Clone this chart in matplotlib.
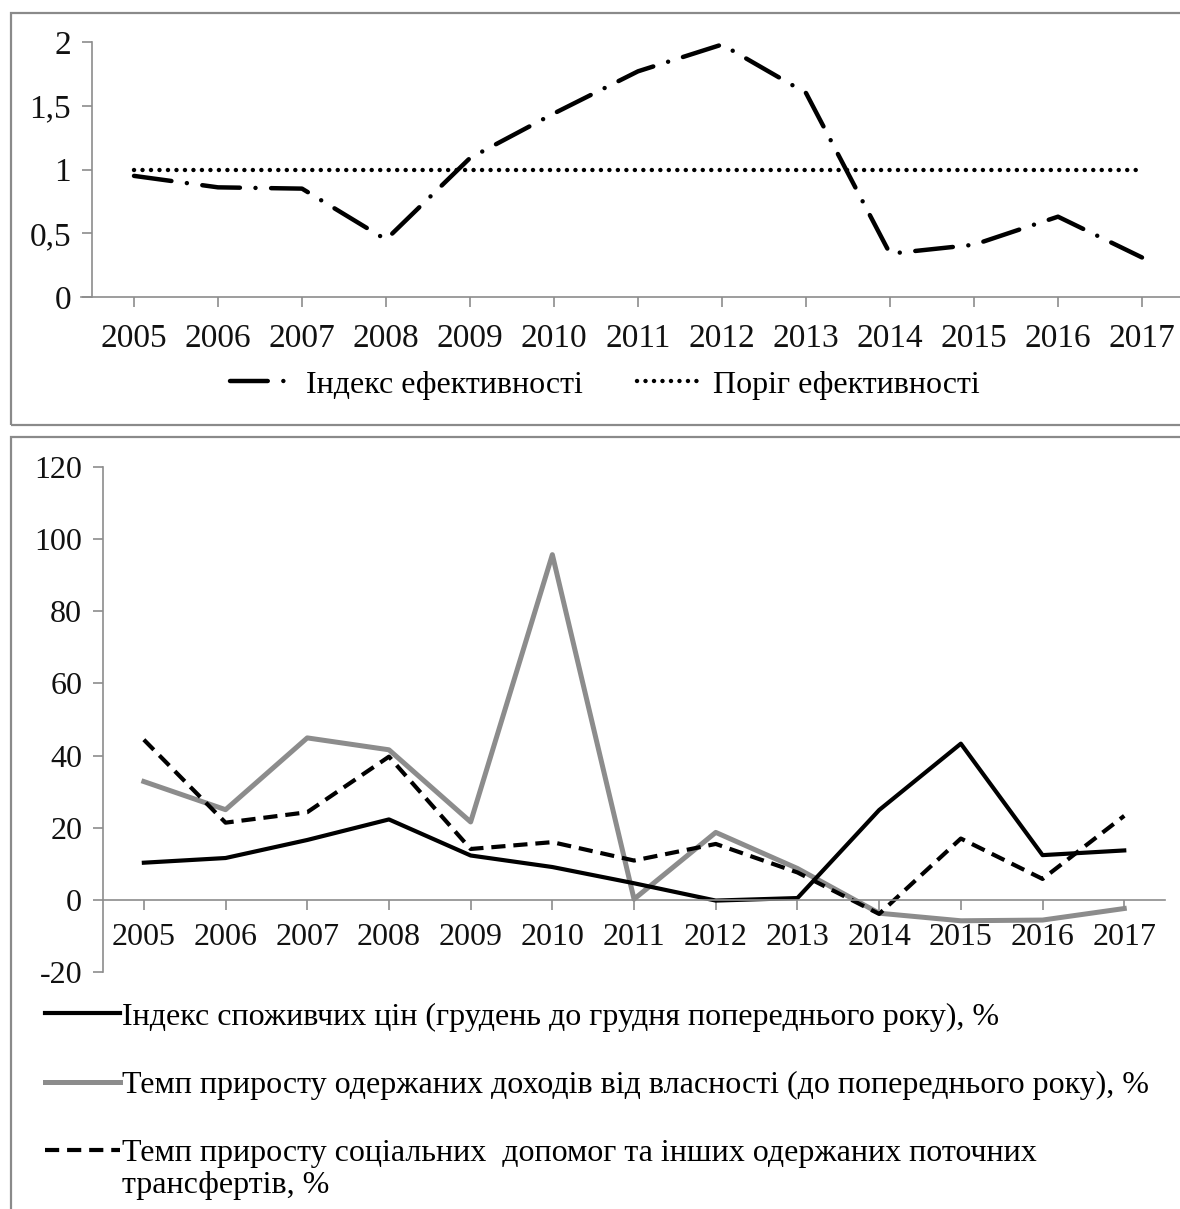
import matplotlib.pyplot as plt
import matplotlib.patches as mpatches
import numpy as np

plt.rcParams['font.family'] = ['Liberation Serif', 'DejaVu Serif']

years = ['2005', '2006', '2007', '2008', '2009', '2010', '2011',
         '2012', '2013', '2014', '2015', '2016', '2017']

# верхній графік
eff_index = [0.95, 0.86, 0.85, 0.45, 1.09, 1.44, 1.77, 1.98, 1.60, 0.34, 0.41, 0.63, 0.31]
eff_threshold = [1, 1, 1, 1, 1, 1, 1, 1, 1, 1, 1, 1, 1]
ticks_top = [0, 0.5, 1, 1.5, 2]
ticks_top_labels = ['0', '0,5', '1', '1,5', '2']

# нижній графік
cpi = [10.3, 11.6, 16.6, 22.3, 12.3, 9.1, 4.6, -0.2, 0.5, 24.9, 43.3, 12.4, 13.7]
prop_income = [32.8, 25.0, 44.9, 41.6, 21.6, 95.7, 0.2, 18.7, 8.7, -3.7, -5.8, -5.6, -2.4]
social = [44.4, 21.4, 24.3, 39.7, 14.1, 16.0, 10.9, 15.5, 7.6, -3.9, 17.0, 5.8, 23.3]
ticks_bot = [-20, 0, 20, 40, 60, 80, 100, 120]

lab_eff = 'Індекс ефективності'
lab_thr = 'Поріг ефективності'
lab_cpi = 'Індекс споживчих цін (грудень до грудня попереднього року), %'
lab_inc = 'Темп приросту одержаних доходів від власності (до попереднього року), %'
lab_soc = 'Темп приросту соціальних  допомог та інших одержаних поточних'
lab_soc2 = 'трансфертів, %'

W, H = 1180, 1209
fig = plt.figure(figsize=(W / 100, H / 100), dpi=100)

# рамки
border = '#8a8a8a'
fig.patches.append(mpatches.Rectangle((11 / W, 1 - 425 / H), 1.0, (425 - 13) / H,
                                      transform=fig.transFigure, fill=False,
                                      ec=border, lw=1.6))
fig.patches.append(mpatches.Rectangle((11 / W, -0.01), 1.0, 1 - 437 / H + 0.01,
                                      transform=fig.transFigure, fill=False,
                                      ec=border, lw=1.6))

x = np.arange(len(years))
axis_col = '#8c8c8c'


def style_axes(ax, size):
    for s in ['top', 'right']:
        ax.spines[s].set_visible(False)
    for s in ['left', 'bottom']:
        ax.spines[s].set_color(axis_col)
        ax.spines[s].set_linewidth(1.2)
    ax.tick_params(axis='both', colors=axis_col, width=1.2, length=7,
                   labelcolor='#111111', labelsize=size)


# ---- верхній ----
ax1 = fig.add_axes([92 / W, 1 - 297 / H, 13 * 84 / W, 255 / H])
ax1.plot(x, eff_index, color='black', lw=3.2, dash_capstyle='round',
         linestyle=(0, (8.5, 3.5, 0.01, 3.5)), label=lab_eff)
ax1.plot(x, eff_threshold, color='black', lw=3.2, dash_capstyle='round',
         linestyle=(0, (0.01, 1.9)), label=lab_thr)
ax1.set_xlim(-0.5, 12.5)
ax1.set_ylim(0, 2)
ax1.set_xticks(x)
ax1.set_xticklabels(years)
ax1.set_yticks(ticks_top)
ax1.set_yticklabels(ticks_top_labels)
style_axes(ax1, 24)
ax1.spines['bottom'].set_bounds(-0.63, 12.5)
ax1.tick_params(axis='x', pad=12)
ax1.tick_params(axis='y', pad=8)
ax1.legend(loc='center', bbox_to_anchor=(0.470, -0.345), ncol=2, frameon=False,
           fontsize=23, handlelength=2.0, handletextpad=0.38, columnspacing=1.7)

# ---- нижній ----
ax2 = fig.add_axes([103 / W, 1 - 972 / H, 13 * 81.7 / W, 505 / H])
ax2.spines['bottom'].set_position(('data', 0))
l_inc, = ax2.plot(x, prop_income, color='#8c8c8c', lw=3.6, label=lab_inc)
l_cpi, = ax2.plot(x, cpi, color='black', lw=3.0, label=lab_cpi)
l_soc, = ax2.plot(x, social, color='black', lw=3.0, linestyle=(0, (3.4, 1.9)),
                  label=lab_soc)
ax2.set_xlim(-0.5, 12.5)
ax2.set_ylim(-20, 120)
ax2.set_xticks(x)
ax2.set_xticklabels(years)
ax2.set_yticks(ticks_bot)
ax2.set_yticklabels([str(t) for t in ticks_bot])
style_axes(ax2, 23)
ax2.tick_params(axis='x', pad=10)
ax2.tick_params(axis='y', pad=8)

leg = ax2.legend(handles=[l_cpi, l_inc, l_soc], loc='upper left',
                 bbox_to_anchor=(-58 / 1062, -0.06), frameon=False,
                 fontsize=23, handlelength=2.35, handletextpad=0.05,
                 labelspacing=1.22, borderaxespad=0, borderpad=0)
fig.text(122 / W, 1 - 1186 / H, lab_soc2, fontsize=23, va='center', ha='left')

fig.savefig('out.png', dpi=100)
